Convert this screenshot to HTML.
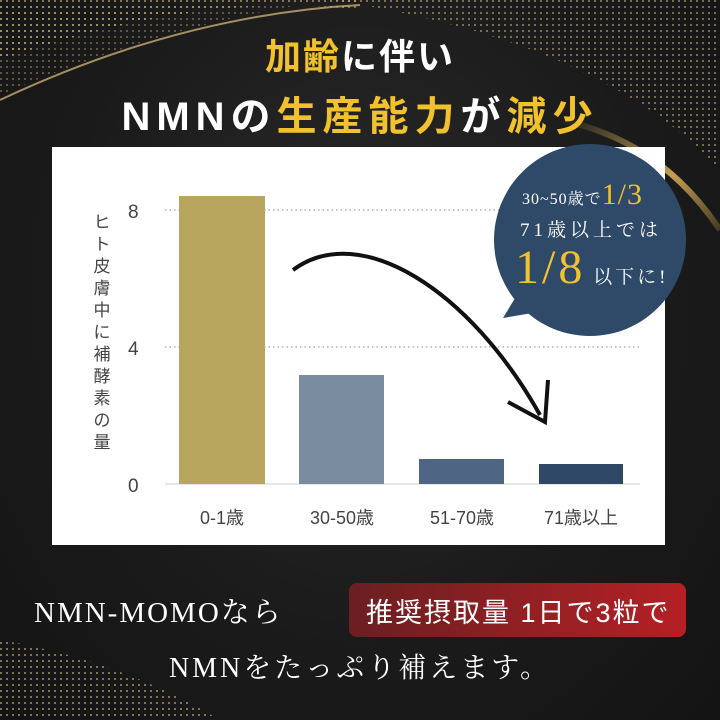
<!DOCTYPE html>
<html><head><meta charset="utf-8"><style>
body{margin:0;width:720px;height:720px;overflow:hidden;background:#1c1c1c;font-family:"Liberation Sans","Noto Sans CJK JP",sans-serif;}
.t{position:absolute;white-space:nowrap}
</style></head><body>
<div style="position:relative;width:720px;height:720px;background:radial-gradient(ellipse at 50% 40%,#2a2a2a 0%,#1a1a1a 60%,#141414 100%)">
<svg width="720" height="720" style="position:absolute;left:0;top:0">
<defs><pattern id="d" width="6" height="6" patternUnits="userSpaceOnUse"><rect width="2" height="2" fill="#c9b27a"/></pattern>
<linearGradient id="g" x1="0" y1="0" x2="1" y2="1"><stop offset="0" stop-color="#f0c060" stop-opacity="0"/><stop offset="0.6" stop-color="#f0c060" stop-opacity="0.8"/><stop offset="1" stop-color="#f0c060" stop-opacity="0.2"/></linearGradient></defs>
<path d="M0,60 Q200,-10 360,10 L360,0 L0,0Z" fill="url(#d)" opacity="0.6"/>
<path d="M0,95 Q150,30 300,5 L0,5Z" fill="url(#d)" opacity="0.4"/>
<path d="M330,0 Q600,40 720,170 L720,0Z" fill="url(#d)" opacity="0.55"/>
<path d="M560,120 Q660,140 720,230" stroke="url(#g)" stroke-width="6" fill="none"/>
<path d="M0,640 Q120,660 220,720 L0,720Z" fill="url(#d)" opacity="0.6"/>
<path d="M0,100 Q180,15 360,5" stroke="#e0c080" stroke-width="2" fill="none" opacity="0.7"/>
</svg>
<div class="t" style="left:0;width:720px;top:28px;text-align:center;font-size:36px;font-weight:bold;color:#fff;letter-spacing:2px"><span style="color:#f2c12e">加齢</span>に伴い</div>
<div class="t" style="left:0;width:720px;top:84px;text-align:center;font-size:40px;font-weight:bold;color:#fff;letter-spacing:6px">NMNの<span style="color:#f2c12e">生産能力</span>が<span style="color:#f2c12e">減少</span></div>
<div style="position:absolute;left:52px;top:147px;width:613px;height:398px;background:#fff"></div>
<svg width="720" height="720" style="position:absolute;left:0;top:0">
<line x1="165" y1="210" x2="640" y2="210" stroke="#888" stroke-dasharray="1.5 3"/>
<line x1="165" y1="347" x2="640" y2="347" stroke="#888" stroke-dasharray="1.5 3"/>
<line x1="165" y1="484" x2="640" y2="484" stroke="#ccc"/>
<rect x="179" y="196" width="86" height="288" fill="#b8a65e"/>
<rect x="299" y="375" width="85" height="109" fill="#7a8ca0"/>
<rect x="419" y="459" width="85" height="25" fill="#4e6683"/>
<rect x="539" y="464" width="84" height="20" fill="#2f4868"/>
<path d="M293,270 C360,220 470,290 540,415" stroke="#111" stroke-width="4" fill="none"/>
<path d="M508,402 L545,422 L548,380" stroke="#111" stroke-width="4" fill="none"/>
<text x="128" y="218" font-size="19" fill="#444" font-family="Liberation Sans">8</text>
<text x="128" y="355" font-size="19" fill="#444" font-family="Liberation Sans">4</text>
<text x="128" y="492" font-size="19" fill="#444" font-family="Liberation Sans">0</text>
<g font-size="18" fill="#444" font-family="Liberation Sans,Noto Sans CJK JP" text-anchor="middle">
<text x="222" y="524">0-1歳</text><text x="342" y="524">30-50歳</text><text x="462" y="524">51-70歳</text><text x="581" y="524">71歳以上</text></g>
<circle cx="590" cy="240" r="96" fill="#2f4a68"/>
<path d="M520,290 L503,318 L550,310Z" fill="#2f4a68"/>
</svg>
<div class="t" style="left:91px;top:212px;width:22px;font-size:17px;line-height:22px;color:#444;white-space:normal;text-align:center">ヒト皮膚中に補酵素の量</div>
<div class="t" style="left:522px;top:178px;font-family:'Liberation Serif','Noto Serif CJK SC',serif;font-size:16px;color:#fff;letter-spacing:1px">30~50歳で<span style="font-size:30px;color:#f2c12e">1/3</span></div>
<div class="t" style="left:520px;top:215px;font-family:'Liberation Serif','Noto Serif CJK SC',serif;font-size:19px;color:#fff;letter-spacing:4px">71歳以上では</div>
<div class="t" style="left:515px;top:240px;font-family:'Liberation Serif','Noto Serif CJK SC',serif;font-size:19px;color:#fff;letter-spacing:3px"><span style="font-size:48px;color:#f2c12e">1/8</span> 以下に!</div>
<div style="position:absolute;left:349px;top:583px;width:337px;height:54px;border-radius:8px;background:linear-gradient(90deg,#6a1f22,#b52024)"></div>
<div class="t" style="left:34px;top:590px;font-family:'Liberation Serif','Noto Serif CJK SC',serif;font-size:29px;color:#fff;letter-spacing:2px">NMN-MOMOなら</div>
<div class="t" style="left:366px;top:591px;font-family:'Liberation Sans','Noto Sans CJK JP',sans-serif;font-size:27px;color:#fff;letter-spacing:2px">推奨摂取量 1日で3粒で</div>
<div class="t" style="left:0;width:720px;text-align:center;top:646px;font-family:'Liberation Serif','Noto Serif CJK SC',serif;font-size:28px;color:#fff;letter-spacing:3px">NMNをたっぷり補えます。</div>
</div>
</body></html>
